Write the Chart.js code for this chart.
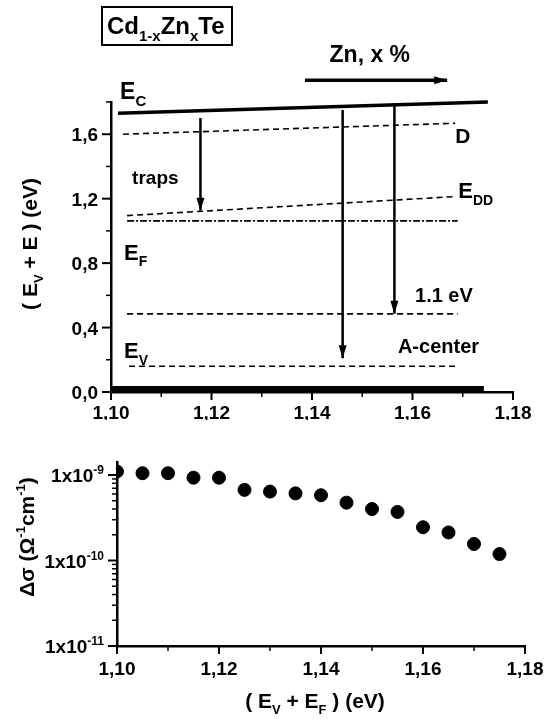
<!DOCTYPE html>
<html lang="en">
<head>
<meta charset="UTF-8">
<title>Cd1-xZnxTe levels and photoconductivity</title>
<script src="https://cdn.jsdelivr.net/npm/chart.js"></script>
<style>
    body { margin: 0; background: #fff; }
    .panel { position: absolute; left: 0; width: 546px; }
    #topPanel { top: 0; height: 420px; }
    #botPanel { top: 420px; height: 303px; }
</style>
</head>
<body>
<div class="panel" id="topPanel"><canvas id="levels"></canvas></div>
<div class="panel" id="botPanel"><canvas id="sigma"></canvas></div>

<script>
    // ---- upper panel: energy levels (x = E_V + E_F in eV, y = E_V + E in eV)
    const levelNames = ['E_C', 'D', 'E_DD', 'E_F', '1.1 eV', 'A-center', 'E_V'];
    const levelX0 = [1.1014, 1.1024, 1.1032, 1.1032, 1.1032, 1.1036, 1.1000];
    const levelX1 = [1.1750, 1.1685, 1.1685, 1.1690, 1.1690, 1.1690, 1.1742];
    const levelY0 = [1.730, 1.600, 1.095, 1.062, 0.485, 0.160, 0.015];
    const levelY1 = [1.800, 1.668, 1.213, 1.062, 0.485, 0.160, 0.015];

    // vertical transitions
    const arrowX = [1.1178, 1.1461, 1.1564];
    const arrowFrom = [1.70, 1.75, 1.79];
    const arrowTo = [1.125, 0.21, 0.485];

    // "Zn, x %" arrow
    const znArrowX = [1.1386, 1.1669];
    const znArrowY = [1.935, 1.935];

    // ---- lower panel: photoconductivity
    const sigmaE = [1.100, 1.105, 1.110, 1.115, 1.120, 1.125, 1.130, 1.135,
                    1.140, 1.145, 1.150, 1.155, 1.160, 1.165, 1.170, 1.175];
    const sigmaVal = [1.10e-9, 1.05e-9, 1.05e-9, 0.93e-9, 0.93e-9, 6.7e-10, 6.4e-10, 6.1e-10,
                      5.8e-10, 4.75e-10, 4.0e-10, 3.7e-10, 2.45e-10, 2.13e-10, 1.56e-10, 1.19e-10];

    // ---- ticks
    const xTicks = [1.10, 1.12, 1.14, 1.16, 1.18];
    const xTickLabels = ['1,10', '1,12', '1,14', '1,16', '1,18'];
    const xMinor = [1.11, 1.13, 1.15, 1.17];
    const eTicks = [0, 0.4, 0.8, 1.2, 1.6];
    const eTickLabels = ['0,0', '0,4', '0,8', '1,2', '1,6'];
    const eMinor = [0.2, 0.6, 1.0, 1.4, 1.8];
    const sTicks = [1e-11, 1e-10, 1e-9];
    const sTickExp = ['-11', '-10', '-9'];
    const sMinor = [1e-11, 1e-10].flatMap(d => [2, 3, 4, 5, 6, 7, 8, 9].map(m => m * d));

    const FONT = '"Liberation Sans", Arial, Helvetica, sans-serif';

    // draws text made of [string, 'sub' | 'sup' | ''] parts
    function rich(ctx, parts, x, y, size, align) {
        const small = Math.round(size * 0.64);
        const widths = parts.map(([t, k]) => {
            ctx.font = `bold ${k ? small : size}px ${FONT}`;
            return ctx.measureText(t).width;
        });
        const total = widths.reduce((a, b) => a + b, 0);
        let cx = align === 'center' ? x - total / 2 : align === 'right' ? x - total : x;
        ctx.textAlign = 'left';
        ctx.textBaseline = 'alphabetic';
        parts.forEach(([t, k], i) => {
            ctx.font = `bold ${k ? small : size}px ${FONT}`;
            const dy = k === 'sub' ? size * 0.3 : k === 'sup' ? -size * 0.42 : 0;
            ctx.fillText(t, cx, y + dy);
            cx += widths[i];
        });
    }

    function richRotated(ctx, parts, x, y, size) {
        ctx.save();
        ctx.translate(x, y);
        ctx.rotate(-Math.PI / 2);
        rich(ctx, parts, 0, 0, size, 'center');
        ctx.restore();
    }

    function seg(ctx, x0, y0, x1, y1, w) {
        ctx.lineWidth = w;
        ctx.beginPath();
        ctx.moveTo(x0, y0);
        ctx.lineTo(x1, y1);
        ctx.stroke();
    }

    // tick marks + tick labels, positioned by the chart's own scales
    function drawTicks(chart, t) {
        const { ctx, chartArea: a } = chart;
        const sx = chart.scales.x, sy = chart.scales.y;
        ctx.save();
        ctx.strokeStyle = '#000';
        ctx.fillStyle = '#000';
        t.xMajor.forEach((v, i) => {
            const px = sx.getPixelForValue(v);
            seg(ctx, px, a.bottom, px, a.bottom + 8, 2);
            rich(ctx, [[t.xLabels[i], '']], px, a.bottom + t.xLabelGap, 19, 'center');
        });
        t.xMinor.forEach(v => {
            const px = sx.getPixelForValue(v);
            seg(ctx, px, a.bottom, px, a.bottom + 5, 1.5);
        });
        t.yMajor.forEach((v, i) => {
            const py = sy.getPixelForValue(v);
            seg(ctx, a.left - 9, py, a.left, py, 2);
            rich(ctx, t.yLabels[i], a.left - t.yLabelGap, py + 7, 19, 'right');
        });
        t.yMinor.forEach(v => {
            const py = sy.getPixelForValue(v);
            if (py >= a.top - 1) seg(ctx, a.left - 5, py, a.left, py, 1.5);
        });
        ctx.restore();
    }

    function arrowHead(ctx, x, y, dir, len, half) {
        ctx.beginPath();
        if (dir === 'down') {
            ctx.moveTo(x, y);
            ctx.lineTo(x - half, y - len);
            ctx.lineTo(x + half, y - len);
        } else {
            ctx.moveTo(x, y);
            ctx.lineTo(x - len, y - half);
            ctx.lineTo(x - len, y + half);
        }
        ctx.closePath();
        ctx.fill();
    }

    // ---------------- upper panel ----------------
    const dashed = [6, 4];
    const levelStyle = {
        'E_C': { width: 3.5, dash: [] },
        'D': { width: 1.6, dash: dashed },
        'E_DD': { width: 1.6, dash: dashed },
        'E_F': { width: 1.6, dash: [7, 2, 2, 2] },
        '1.1 eV': { width: 1.6, dash: dashed },
        'A-center': { width: 1.6, dash: dashed },
        'E_V': { width: 7, dash: [] }
    };

    const topSets = levelNames.map((n, i) => ({
        label: n,
        data: [{ x: levelX0[i], y: levelY0[i] }, { x: levelX1[i], y: levelY1[i] }],
        showLine: true,
        borderColor: '#000',
        borderWidth: levelStyle[n].width,
        borderDash: levelStyle[n].dash,
        pointRadius: 0,
        clip: false
    }));
    arrowX.forEach((x, i) => topSets.push({
        label: 'transition ' + (i + 1),
        data: [{ x: x, y: arrowFrom[i] }, { x: x, y: arrowTo[i] }],
        showLine: true, borderColor: '#000', borderWidth: 2.5, pointRadius: 0, clip: false,
        arrow: 'down'
    }));
    topSets.push({
        label: 'Zn, x %',
        data: [{ x: znArrowX[0], y: znArrowY[0] }, { x: znArrowX[1], y: znArrowY[1] }],
        showLine: true, borderColor: '#000', borderWidth: 3.5, pointRadius: 0, clip: false,
        arrow: 'right'
    });

    const topNotes = [
        { parts: [['E', ''], ['C', 'sub']], x: 1.1018, y: 1.82, size: 23 },
        { parts: [['Zn, x %', '']], x: 1.1515, y: 2.05, size: 23, align: 'center' },
        { parts: [['D', '']], x: 1.1685, y: 1.544, size: 21 },
        { parts: [['traps', '']], x: 1.1042, y: 1.29, size: 19 },
        { parts: [['E', ''], ['DD', 'sub']], x: 1.1691, y: 1.203, size: 22 },
        { parts: [['E', ''], ['F', 'sub']], x: 1.1026, y: 0.82, size: 22 },
        { parts: [['1.1 eV', '']], x: 1.1605, y: 0.56, size: 20 },
        { parts: [['A-center', '']], x: 1.1571, y: 0.242, size: 20 },
        { parts: [['E', ''], ['V', 'sub']], x: 1.1026, y: 0.21, size: 22 }
    ];

    const topDecor = {
        id: 'topDecor',
        afterDatasetsDraw(chart) {
            const { ctx, chartArea: a } = chart;
            const sx = chart.scales.x, sy = chart.scales.y;
            ctx.save();
            ctx.fillStyle = '#000';
            chart.data.datasets.forEach((ds, i) => {
                if (!ds.arrow) return;
                const end = chart.getDatasetMeta(i).data[1];
                arrowHead(ctx, end.x, end.y, ds.arrow, 13, 4);
            });
            topNotes.forEach(n => {
                rich(ctx, n.parts, sx.getPixelForValue(n.x), sy.getPixelForValue(n.y), n.size, n.align || 'left');
            });
            // compound box
            ctx.strokeStyle = '#000';
            ctx.lineWidth = 2;
            ctx.strokeRect(a.left - 9, 7, 130, 38);
            rich(ctx, [['Cd', ''], ['1-x', 'sub'], ['Zn', ''], ['x', 'sub'], ['Te', '']], a.left - 4, 34, 24, 'left');
            // axis title
            richRotated(ctx, [['( E', ''], ['V', 'sub'], [' + E ) (eV)', '']], 37, 244, 21);
            ctx.restore();
            drawTicks(chart, {
                xMajor: xTicks, xLabels: xTickLabels, xMinor: xMinor, xLabelGap: 27,
                yMajor: eTicks, yLabels: eTickLabels.map(l => [[l, '']]), yMinor: eMinor, yLabelGap: 13
            });
        }
    };

    new Chart(document.getElementById('levels'), {
        type: 'scatter',
        data: { datasets: topSets },
        options: {
            responsive: true,
            maintainAspectRatio: false,
            animation: false,
            devicePixelRatio: 1,
            layout: { padding: { top: 102, right: 33, left: 0, bottom: 0 } },
            plugins: { legend: { display: false }, tooltip: { enabled: false } },
            scales: {
                x: {
                    type: 'linear', min: 1.10, max: 1.18,
                    afterFit: s => { s.height = 28; },
                    ticks: { display: false }, grid: { display: false },
                    border: { display: true, color: '#000', width: 2.5 }
                },
                y: {
                    type: 'linear', min: 0, max: 1.8,
                    afterFit: s => { s.width = 111; },
                    ticks: { display: false }, grid: { display: false },
                    border: { display: true, color: '#000', width: 2.5 }
                }
            }
        },
        plugins: [topDecor]
    });

    // ---------------- lower panel ----------------
    const botDecor = {
        id: 'botDecor',
        afterDatasetsDraw(chart) {
            const { ctx, chartArea: a } = chart;
            ctx.save();
            ctx.fillStyle = '#000';
            // 537 px on the page -> 117 px inside this canvas
            richRotated(ctx, [['\u0394\u03c3 (\u03a9', ''], ['-1', 'sup'], ['cm', ''], ['-1', 'sup'], [')', '']],
                34, 117, 21);
            rich(ctx, [['( E', ''], ['V', 'sub'], [' + E', ''], ['F', 'sub'], [' ) (eV)', '']],
                (a.left + a.right) / 2 - 6, a.bottom + 62, 21, 'center');
            ctx.restore();
            drawTicks(chart, {
                xMajor: xTicks, xLabels: xTickLabels, xMinor: xMinor, xLabelGap: 29,
                yMajor: sTicks, yLabels: sTickExp.map(e => [['1x10', ''], [e, 'sup']]), yMinor: sMinor, yLabelGap: 13
            });
        }
    };

    new Chart(document.getElementById('sigma'), {
        type: 'scatter',
        data: {
            datasets: [{
                label: '\u0394\u03c3',
                data: sigmaE.map((e, i) => ({ x: e, y: sigmaVal[i] })),
                backgroundColor: '#000',
                borderColor: '#000',
                pointRadius: 6.5,
                clip: 0
            }]
        },
        options: {
            responsive: true,
            maintainAspectRatio: false,
            animation: false,
            devicePixelRatio: 1,
            layout: { padding: { top: 42, right: 21, left: 0, bottom: 0 } },
            plugins: { legend: { display: false }, tooltip: { enabled: false } },
            scales: {
                x: {
                    type: 'linear', min: 1.10, max: 1.18,
                    afterFit: s => { s.height = 77; },
                    ticks: { display: false }, grid: { display: false },
                    border: { display: true, color: '#000', width: 2.5 }
                },
                y: {
                    type: 'logarithmic', min: 1e-11, max: 1.42e-9,
                    afterFit: s => { s.width = 117; },
                    ticks: { display: false }, grid: { display: false },
                    border: { display: true, color: '#000', width: 2.5 }
                }
            }
        },
        plugins: [botDecor]
    });
</script>
</body>
</html>
